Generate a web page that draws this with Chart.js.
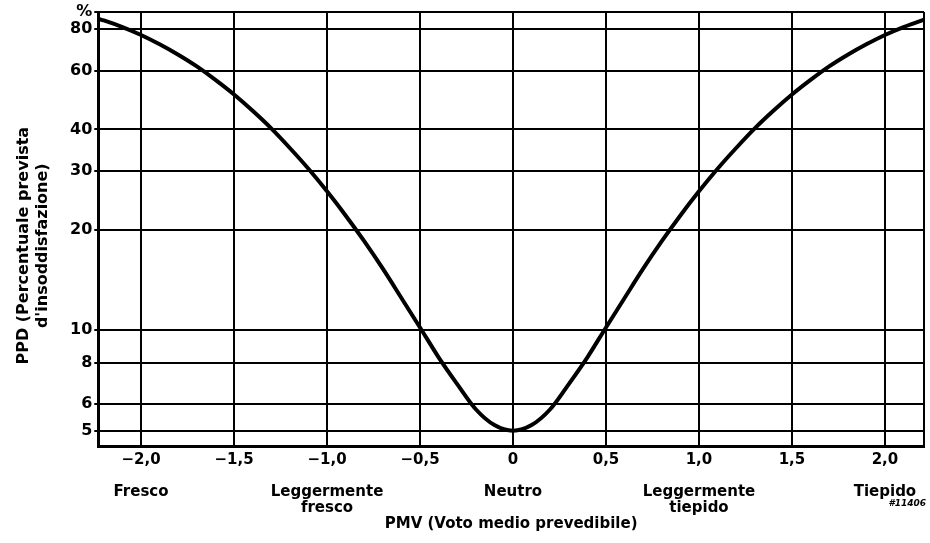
<!DOCTYPE html>
<html>
<head>
<meta charset="utf-8">
<script src="https://cdn.jsdelivr.net/npm/chart.js@4.4.1/dist/chart.umd.min.js"></script>
<style>
html, body { margin: 0; padding: 0; background: #fff; }
#wrap { width: 930px; height: 543px; }
</style>
</head>
<body>
<div id="wrap"><canvas id="ppdChart" width="930" height="543"></canvas></div>
<script>
// PMV (x) and PPD in % (y)
const pmv = [-2.23, -2.2, -2.1, -2.0, -1.9, -1.8, -1.7, -1.6, -1.5, -1.4, -1.3, -1.2, -1.1, -1.0,
  -0.9, -0.8, -0.7, -0.6, -0.5, -0.4, -0.3, -0.2, -0.1, 0, 0.1, 0.2, 0.3, 0.4, 0.5, 0.6, 0.7,
  0.8, 0.9, 1.0, 1.1, 1.2, 1.3, 1.4, 1.5, 1.6, 1.7, 1.8, 1.9, 2.0, 2.1, 2.2, 2.21];
const ppd = [85.9, 84.9, 81.1, 76.8, 72.0, 67.0, 61.8, 56.3, 50.9, 45.5, 40.3, 35.2, 30.5, 26.1,
  22.1, 18.5, 15.3, 12.5, 10.2, 8.3, 6.9, 5.8, 5.2, 5.0, 5.2, 5.8, 6.9, 8.3, 10.2, 12.5, 15.3,
  18.5, 22.1, 26.1, 30.5, 35.2, 40.3, 45.5, 50.9, 56.3, 61.8, 67.0, 72.0, 76.8, 81.1, 84.9, 85.3];

// axis ticks and labels
const xTicks = [-2, -1.5, -1, -0.5, 0, 0.5, 1, 1.5, 2];
const xTickLabels = ['\u22122,0', '\u22121,5', '\u22121,0', '\u22120,5', '0', '0,5', '1,0', '1,5', '2,0'];
const sensationAt = [-2, -1, 0, 1, 2];
const sensationLabels = [['Fresco'], ['Leggermente', 'fresco'], ['Neutro'], ['Leggermente', 'tiepido'], ['Tiepido']];
const yTicks = [5, 6, 8, 10, 20, 30, 40, 60, 80, 90];
const yTickLabels = ['5', '6', '8', '10', '20', '30', '40', '60', '80', '%'];
const xMin = -2.23, xMax = 2.21, yMin = 4.5, yMax = 90;

const FONT = '"DejaVu Sans", "Liberation Sans", Arial, sans-serif';
const PAD = '\u00a0'.repeat(6); // nudges the rotated title a bit lower

// small drawing code under the right corner
const figCode = {
    id: 'figCode',
    afterDraw(chart) {
        const { ctx, chartArea } = chart;
        ctx.save();
        ctx.font = 'italic bold 9px ' + FONT;
        ctx.fillStyle = '#000';
        ctx.textAlign = 'right';
        ctx.fillText('#11406', chartArea.right + 2, chartArea.bottom + 60);
        ctx.restore();
    }
};

new Chart(document.getElementById('ppdChart'), {
    type: 'line',
    data: {
        datasets: [{
            data: pmv.map((x, i) => ({ x: x, y: ppd[i] })),
            borderColor: '#000',
            borderWidth: 4,
            pointRadius: 0,
            fill: false,
            cubicInterpolationMode: 'monotone'
        }]
    },
    options: {
        responsive: false,
        animation: false,
        layout: { padding: { left: 14, right: 3, top: 12, bottom: 10 } },
        plugins: {
            legend: { display: false },
            tooltip: { enabled: false }
        },
        scales: {
            x: {
                type: 'linear',
                min: xMin,
                max: xMax,
                afterBuildTicks: scale => {
                    scale.ticks = xTicks.concat([xMax]).map(v => ({ value: v }));
                },
                ticks: {
                    color: '#000',
                    maxRotation: 0,
                    autoSkip: false,
                    padding: 6,
                    font: { family: FONT, size: 15, weight: 'bold', lineHeight: '16px' },
                    callback: value => {
                        const i = xTicks.indexOf(value);
                        if (i < 0) return '';
                        const s = sensationAt.indexOf(value);
                        return s < 0 ? xTickLabels[i] : [xTickLabels[i], ''].concat(sensationLabels[s]);
                    }
                },
                grid: { color: '#000', lineWidth: 2, drawTicks: false },
                border: { color: '#000', width: 3 },
                title: {
                    display: true,
                    text: 'PMV (Voto medio prevedibile)',
                    color: '#000',
                    font: { family: FONT, size: 15, weight: 'bold', lineHeight: '17px' },
                    padding: { top: -6, bottom: 0 }
                }
            },
            y: {
                type: 'logarithmic',
                min: yMin,
                max: yMax,
                afterBuildTicks: scale => {
                    scale.ticks = yTicks.map(v => ({ value: v }));
                },
                ticks: {
                    color: '#000',
                    autoSkip: false,
                    padding: 2,
                    font: { family: FONT, size: 16, weight: 'bold' },
                    callback: value => {
                        const i = yTicks.indexOf(value);
                        return i < 0 ? '' : yTickLabels[i];
                    }
                },
                grid: { color: '#000', lineWidth: 2, tickLength: 4 },
                border: { color: '#000', width: 3 },
                title: {
                    display: true,
                    text: ['PPD (Percentuale prevista' + PAD, "d'insoddisfazione)" + PAD],
                    color: '#000',
                    font: { family: FONT, size: 16, weight: 'bold', lineHeight: '19px' },
                    padding: { top: 0, bottom: 16 }
                }
            }
        }
    },
    plugins: [figCode]
});
</script>
</body>
</html>
